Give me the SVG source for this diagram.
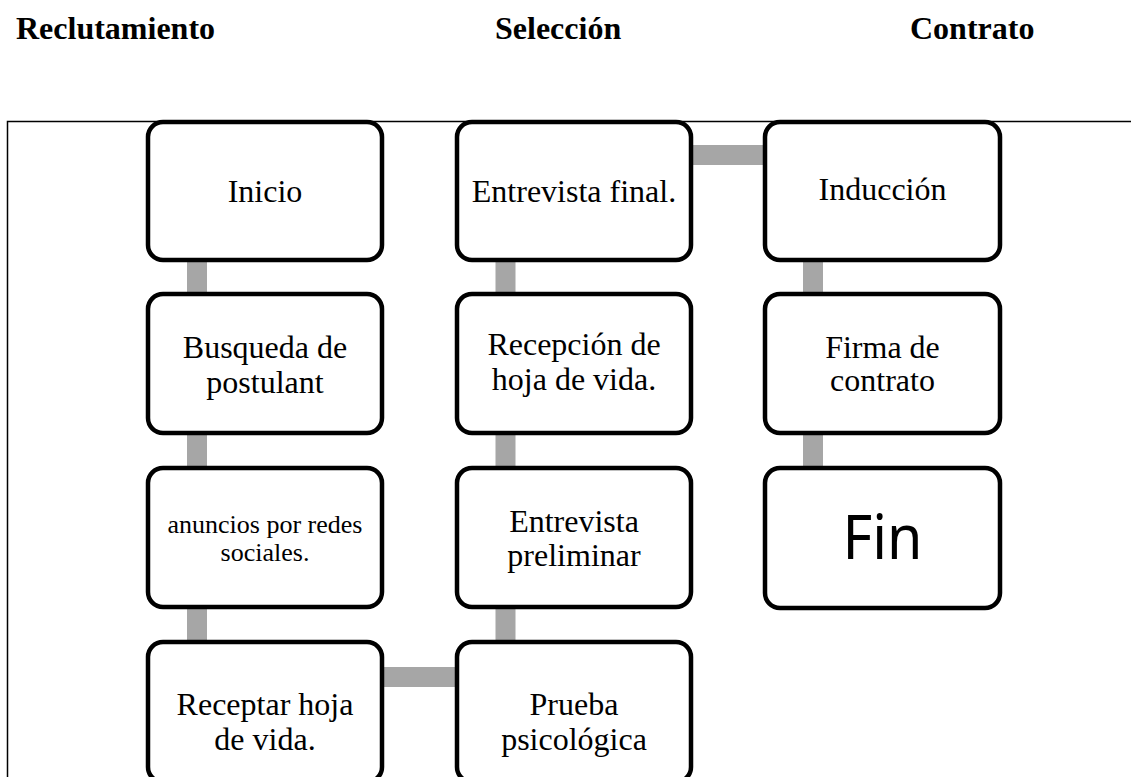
<svg xmlns="http://www.w3.org/2000/svg" width="1131" height="777" viewBox="0 0 1131 777">
<style>
.hdr{font-family:"Liberation Serif","Times New Roman",serif;font-weight:bold;font-size:32px;fill:#000}
.box{fill:#fff;stroke:#000;stroke-width:4.5}
.t{font-family:"Liberation Serif","Times New Roman",serif;font-size:32px;fill:#000;text-anchor:middle}
.ts{font-family:"Liberation Serif","Times New Roman",serif;font-size:26px;fill:#000;text-anchor:middle}
.fin{font-family:"Noto Sans","Open Sans",sans-serif;font-size:62px;fill:#000;text-anchor:middle}
.c{stroke:#A6A6A6;stroke-width:20;fill:none}
</style>
<rect width="1131" height="777" fill="#fff"/>
<g id="headers">
<text class="hdr" x="16" y="39">Reclutamiento</text>
<text class="hdr" x="495" y="39">Selección</text>
<text class="hdr" x="910" y="39">Contrato</text>
</g>
<g id="frame" stroke="#000" stroke-width="1.5" fill="none">
<path d="M7.5 777 V121.5 H1131"/>
</g>
<g id="connectors">
<path class="c" d="M197 258 V296 M197 432 V470 M197 606 V644"/>
<path class="c" d="M505.5 258 V296 M505.5 432 V470 M505.5 606 V644"/>
<path class="c" d="M813 258 V296 M813 432 V470"/>
<path class="c" d="M689 155 H767"/>
<path class="c" d="M380 677 H459"/>
</g>
<g id="inicio"><rect class="box" x="148" y="122" width="234" height="138" rx="15"/><text class="t" x="265" y="202">Inicio</text></g>
<g id="busqueda"><rect class="box" x="148" y="294" width="234" height="139" rx="15"/><text class="t" x="265" y="358">Busqueda de</text><text class="t" x="265" y="393">postulant</text></g>
<g id="anuncios"><rect class="box" x="148" y="468" width="234" height="139" rx="15"/><text class="ts" x="265" y="533">anuncios por redes</text><text class="ts" x="265" y="561">sociales.</text></g>
<g id="receptar"><rect class="box" x="148" y="642" width="234" height="140" rx="15"/><text class="t" x="265" y="715">Receptar hoja</text><text class="t" x="265" y="750">de vida.</text></g>
<g id="entrevista-final"><rect class="box" x="457" y="122" width="234" height="138" rx="15"/><text class="t" x="574" y="202">Entrevista final.</text></g>
<g id="recepcion"><rect class="box" x="457" y="294" width="234" height="139" rx="15"/><text class="t" x="574" y="355">Recepción de</text><text class="t" x="574" y="390">hoja de vida.</text></g>
<g id="entrevista-preliminar"><rect class="box" x="457" y="468" width="234" height="139" rx="15"/><text class="t" x="574" y="532">Entrevista</text><text class="t" x="574" y="566">preliminar</text></g>
<g id="prueba"><rect class="box" x="457" y="642" width="234" height="140" rx="15"/><text class="t" x="574" y="715">Prueba</text><text class="t" x="574" y="750">psicológica</text></g>
<g id="induccion"><rect class="box" x="765" y="122" width="235" height="138" rx="15"/><text class="t" x="882.5" y="200">Inducción</text></g>
<g id="firma"><rect class="box" x="765" y="294" width="235" height="139" rx="15"/><text class="t" x="882.5" y="358">Firma de</text><text class="t" x="882.5" y="391">contrato</text></g>
<g id="fin"><rect class="box" x="765" y="468" width="235" height="140" rx="15"/><text class="fin" x="882.5" y="559" textLength="80" lengthAdjust="spacingAndGlyphs">Fin</text></g>
</svg>
